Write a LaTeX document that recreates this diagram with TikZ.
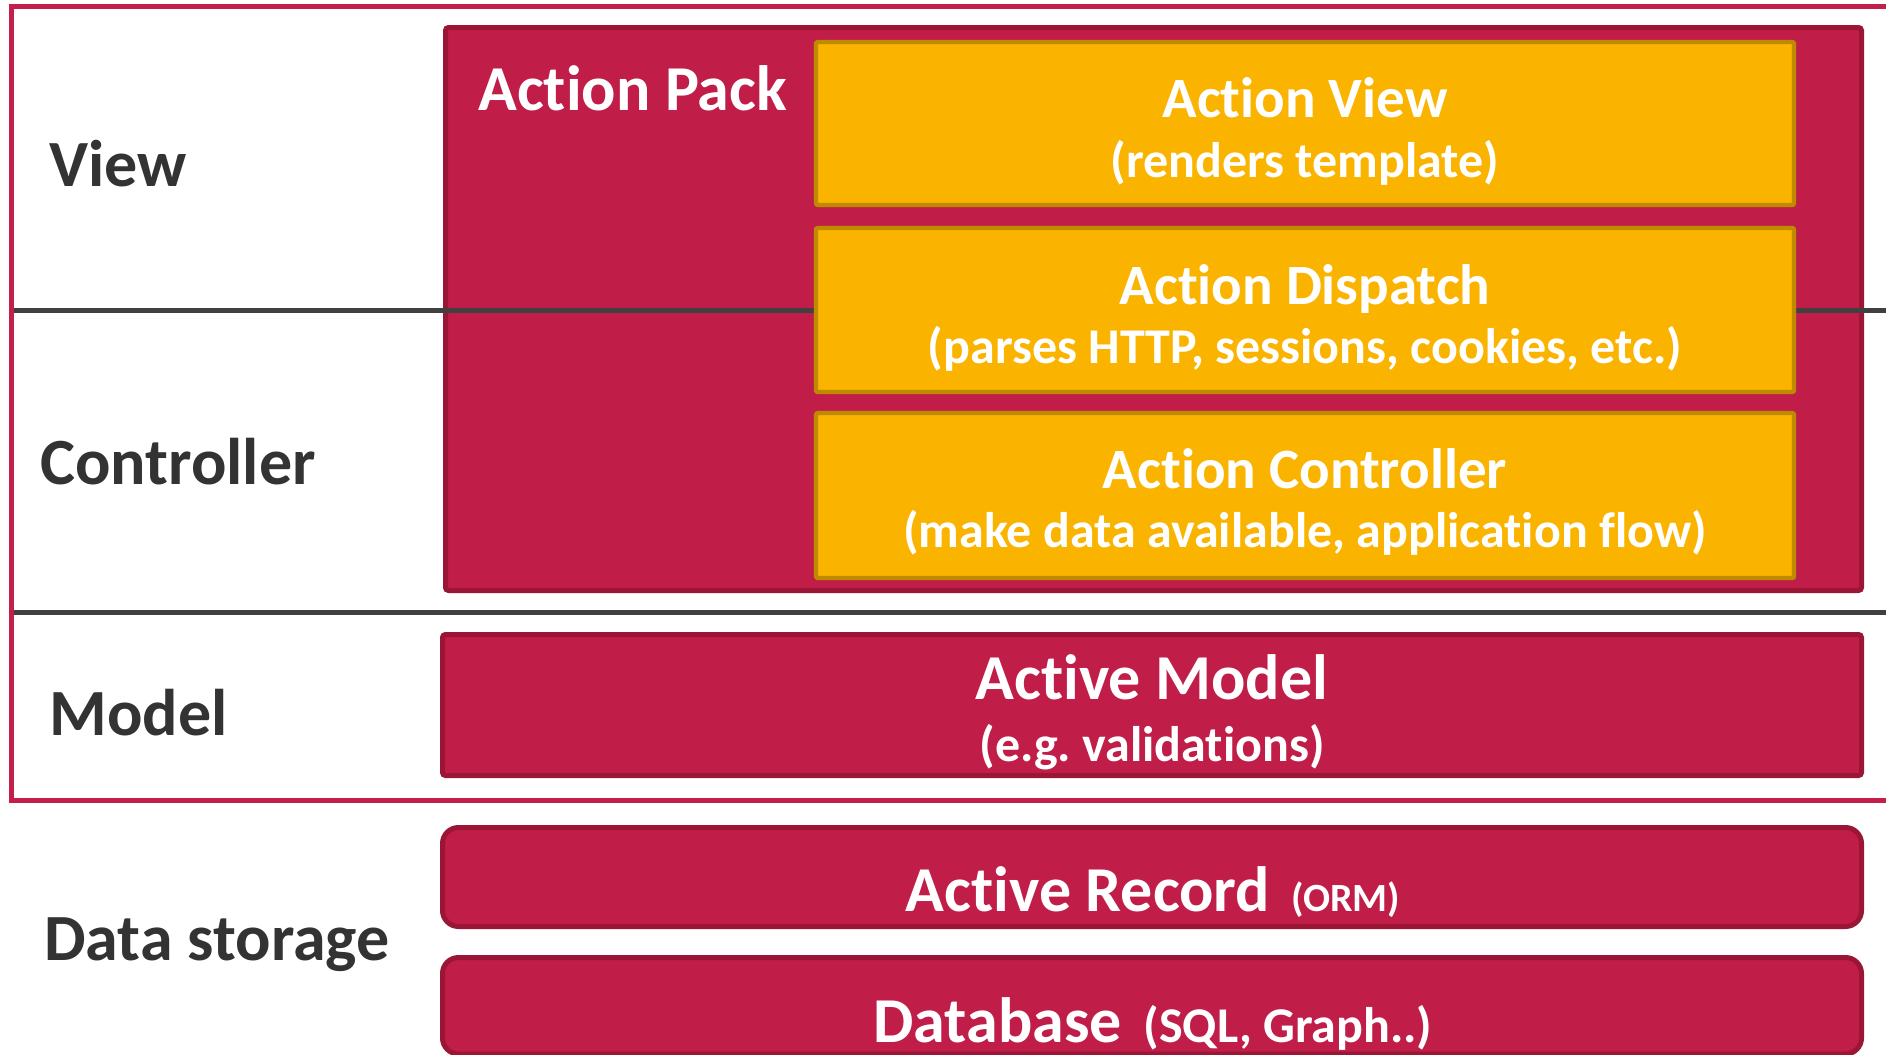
\documentclass[tikz,border=0pt]{standalone}
\usepackage{fontspec}
\setmainfont{Carlito}[RawFeature={-liga;-rlig;-clig;-dlig;-calt}]
\frenchspacing
\definecolor{crim}{HTML}{C01E48}
\definecolor{crimdark}{HTML}{9B1535}
\definecolor{framecol}{HTML}{C31F4A}
\definecolor{orng}{HTML}{FAB400}
\definecolor{orngdark}{HTML}{C08A00}
\definecolor{divgray}{HTML}{404040}
\definecolor{lblgray}{HTML}{333333}
\begin{document}
\begin{tikzpicture}[x=0.5pt,y=-0.5pt,
 redbox/.style={fill=crim,draw=crimdark,line width=2.5pt,rounded corners=1.5pt},
 roundbox/.style={fill=crim,draw=crimdark,line width=2.5pt,rounded corners=8pt},
 orangebox/.style={fill=orng,draw=orngdark,line width=2.2pt,rounded corners=1pt},
 divider/.style={draw=divgray,line width=2.5pt},
 framestyle/.style={draw=framecol,line width=2.5pt},
 lbl/.style={text=lblgray,font=\fontsize{33}{40}\selectfont\bfseries,inner sep=0pt,anchor=base west},
 titletext/.style={text=white,font=\fontsize{28.5}{34}\selectfont\bfseries,inner sep=0pt,anchor=base},
 subtext/.style={text=white,font=\fontsize{25}{30}\selectfont\bfseries,inner sep=0pt,anchor=base},
 bigtext/.style={text=white,font=\fontsize{32}{38}\selectfont\bfseries,inner sep=0pt,anchor=base},
]
\useasboundingbox (0,0) rectangle (1886,1055);
\clip (0,0) rectangle (1886,1055);
\fill[white] (0,0) rectangle (1886,1055);

% outer frame (open to the right)
\draw[framestyle] (1900,6) -- (11,6) -- (11,800) -- (1900,800);

% Action Pack box
\path[redbox] (445.5,27.5) rectangle (1861.5,590.5);

% dividers
\draw[divider] (13.5,310) -- (1886,310);
\draw[divider] (13.5,612) -- (1886,612);

% orange boxes
\path[orangebox] (816,42) rectangle (1794,205);
\path[orangebox] (816,228) rectangle (1794,392);
\path[orangebox] (816,413) rectangle (1794,578);

% model and storage boxes
\path[redbox] (442.5,634.5) rectangle (1861.5,775.5);
\path[roundbox] (442.5,827.5) rectangle (1861.5,926.5);
\path[roundbox] (442.5,957.5) rectangle (1861.5,1054);

% left labels
\node[lbl] (view) at (49,186) {View};
\node[lbl] (controller) at (40,484) {Controller};
\node[lbl] (model) at (49,735) {Model};
\node[lbl] (datastorage) at (44,960) {Data storage};

% Action Pack
\node[bigtext,anchor=base west] (actionpack) at (478,110) {Action Pack};

% orange box texts
\node[titletext] (avt) at (1305,117) {Action View};
\node[subtext] (avs) at (1305,177) {(renders template)};
\node[titletext] (adt) at (1305,304) {Action Dispatch};
\node[subtext] (ads) at (1305,363) {(parses HTTP, sessions, cookies, etc.)};
\node[titletext] (act) at (1305,488) {Action Controller};
\node[subtext] (acs) at (1305,547) {(make data available, application flow)};

% Active Model
\node[bigtext] (amt) at (1152,699) {Active Model};
\node[subtext] (ams) at (1152,761) {(e.g. validations)};

% Active Record
\node[bigtext] (ar) at (1153,911) {Active Record\hspace{10.5pt}{\fontsize{20}{24}\selectfont(ORM)}};

% Database
\node[bigtext] (db) at (1153,1042) {Database\hspace{11pt}{\fontsize{25}{30}\selectfont(SQL, Graph..)}};
\end{tikzpicture}
\end{document}
